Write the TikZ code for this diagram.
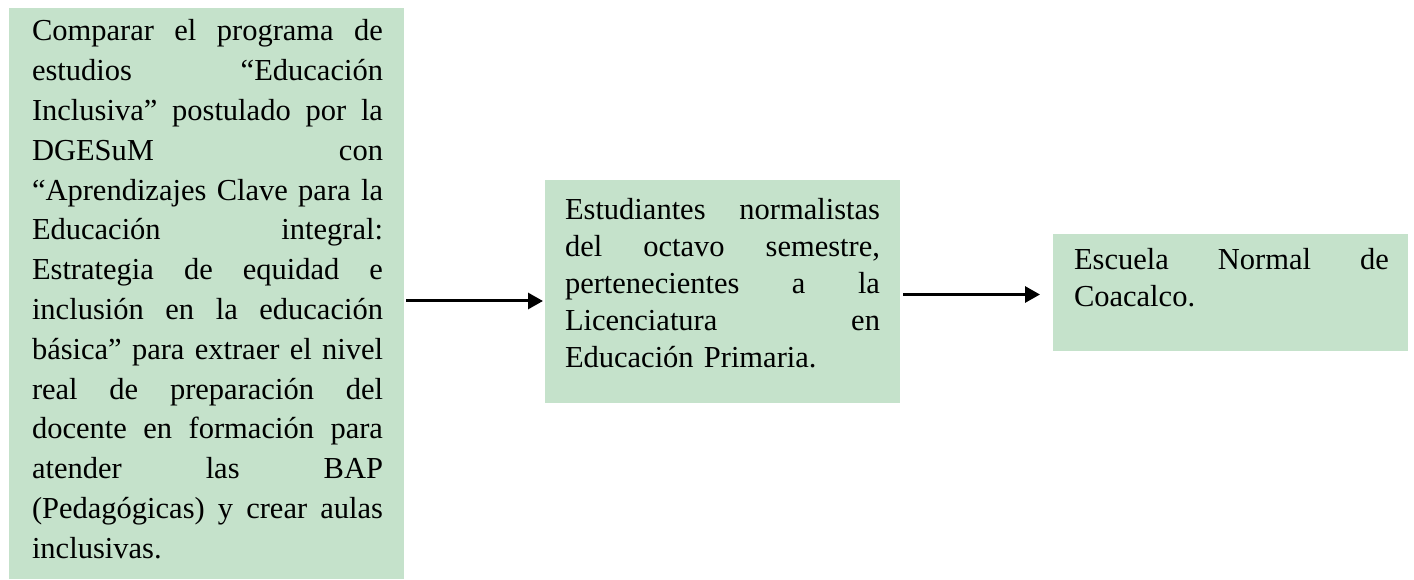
\documentclass[tikz,border=0pt]{standalone}
\usepackage{fontspec}
\setmainfont{Liberation Serif}
\usetikzlibrary{arrows.meta}
\definecolor{boxgreen}{RGB}{197,226,203}
\newcommand\jline[2]{\hbox to #1{\spaceskip=0.25em plus 1fil\relax #2}}
\begin{document}
\begin{tikzpicture}[x=1pt,y=1pt,
  box/.style={fill=boxgreen, draw=none, inner sep=0pt, outer sep=0pt, anchor=south west},
  txt/.style={inner sep=0pt, outer sep=0pt, anchor=base west},
  bigtxt/.style={txt, font=\fontsize{30.5}{39.8}\selectfont},
  smalltxt/.style={txt, font=\fontsize{30.5}{37}\selectfont},
  arr/.style={line width=3pt, -{Triangle[length=15pt,width=16pt]}}]
\useasboundingbox (0,0) rectangle (1414,579);
\node[box, minimum width=395pt, minimum height=571pt] (b1) at (9,0) {};
\node[box, minimum width=355pt, minimum height=223pt] (b2) at (545,176) {};
\node[box, minimum width=355pt, minimum height=117pt] (b3) at (1053,228) {};
\node[bigtxt, text width=351pt] (t1) at (32,538) {%
\jline{351pt}{Comparar el programa de}
\jline{351pt}{estudios “Educación}
\jline{351pt}{Inclusiva” postulado por la}
\jline{351pt}{DGESuM con}
\jline{351pt}{“Aprendizajes Clave para la}
\jline{351pt}{Educación integral:}
\jline{351pt}{Estrategia de equidad e}
\jline{351pt}{inclusión en la educación}
\jline{351pt}{básica” para extraer el nivel}
\jline{351pt}{real de preparación del}
\jline{351pt}{docente en formación para}
\jline{351pt}{atender las BAP}
\jline{351pt}{(Pedagógicas) y crear aulas}
inclusivas.};
\node[smalltxt, text width=315pt] (t2) at (565,359) {%
\jline{315pt}{Estudiantes normalistas}
\jline{315pt}{del octavo semestre,}
\jline{315pt}{pertenecientes a la}
\jline{315pt}{Licenciatura en}
Educación Primaria.};
\node[smalltxt, text width=315pt] (t3) at (1074,309) {%
\jline{315pt}{Escuela Normal de}
Coacalco.};
\draw[arr] ([shift={(2pt,-7.5pt)}]b1.east) -- ([shift={(-2pt,-9.5pt)}]b2.west);
\draw[arr] ([shift={(3pt,-3pt)}]b2.east) -- ([shift={(-13pt,-2pt)}]b3.west);
\end{tikzpicture}
\end{document}
